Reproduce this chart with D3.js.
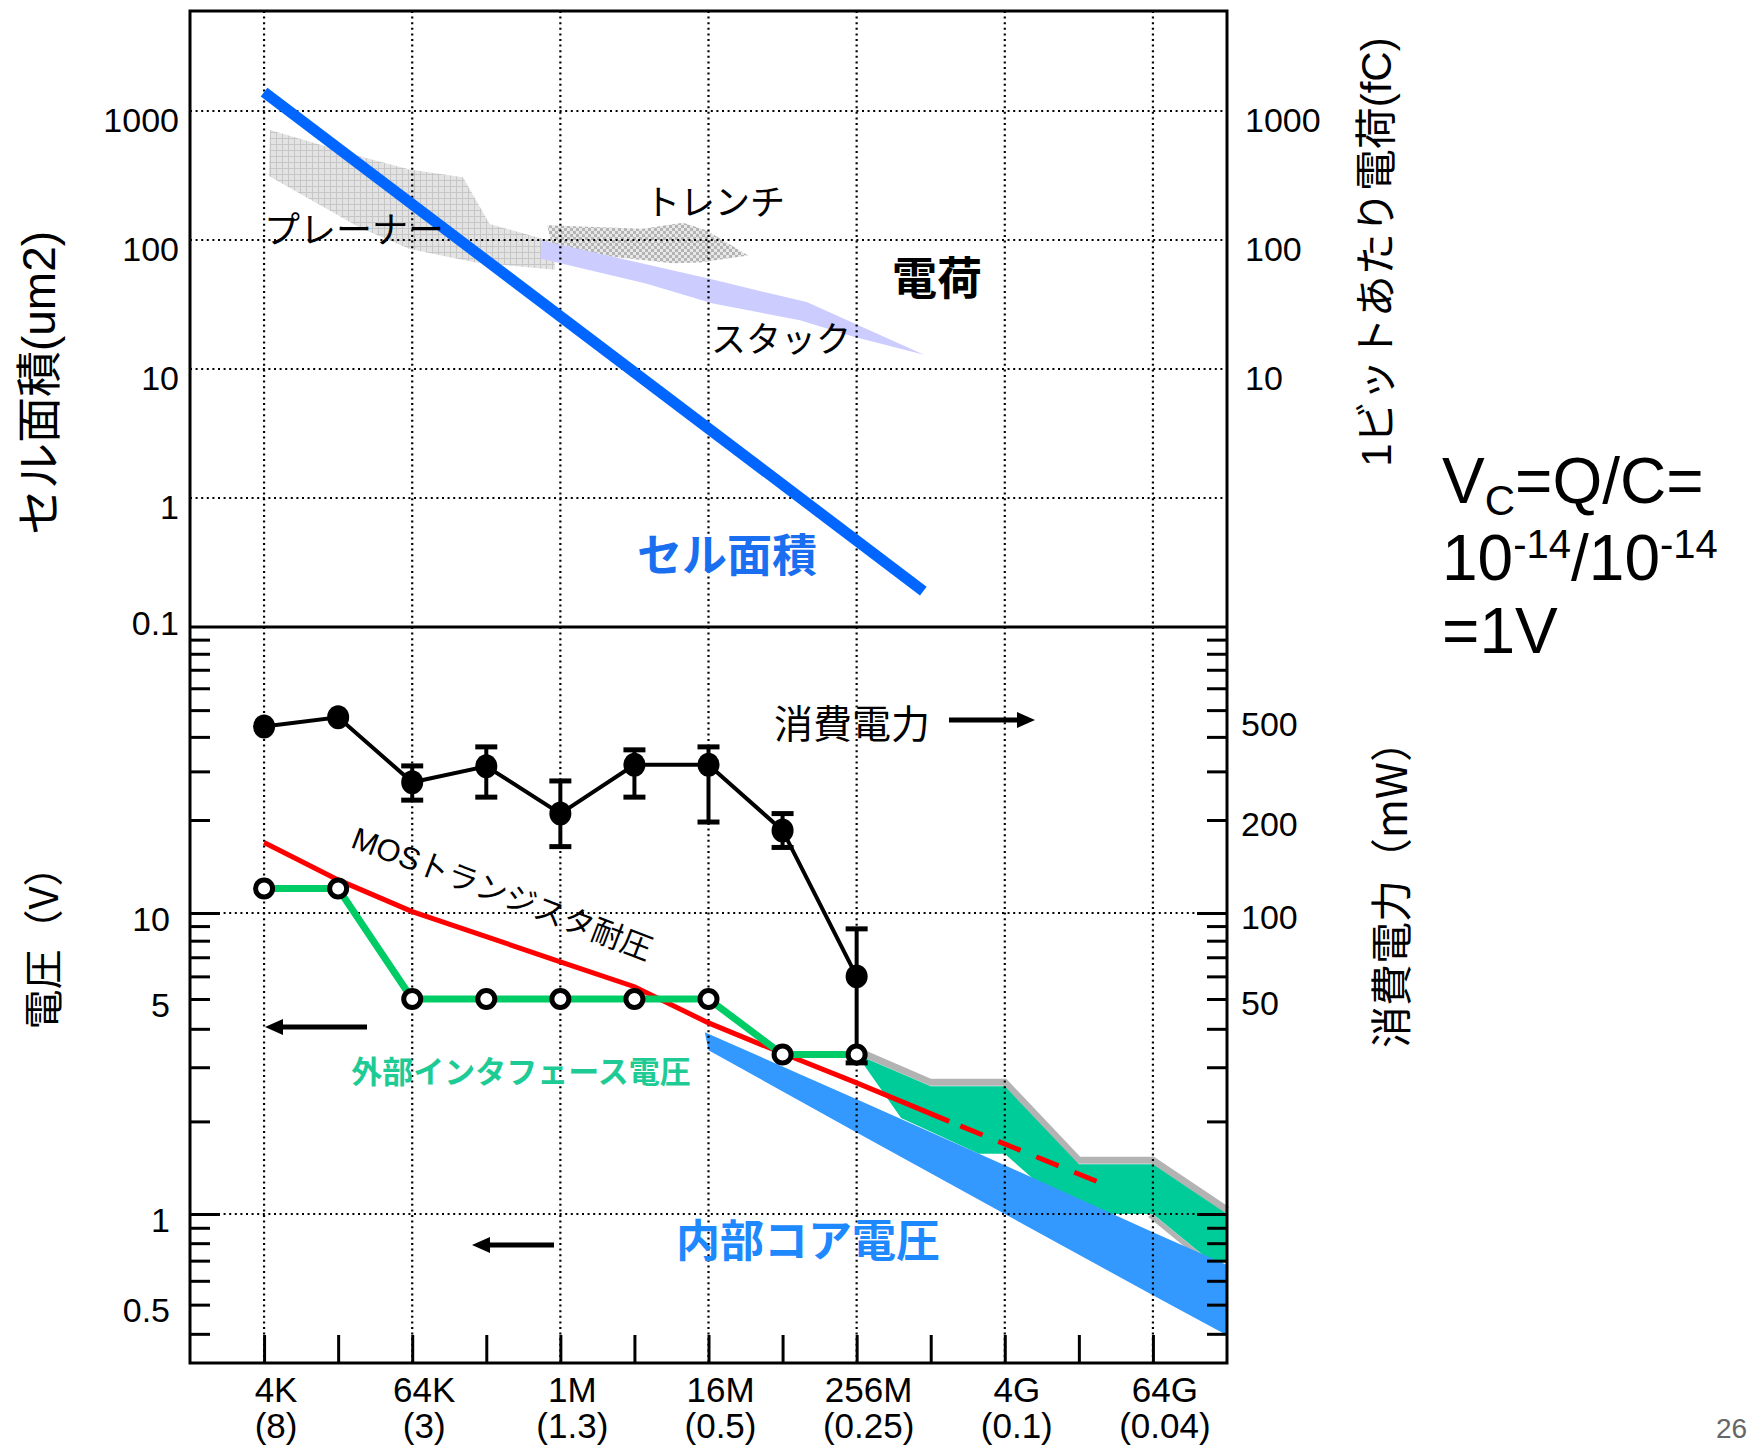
<!DOCTYPE html>
<html>
<head>
<meta charset="utf-8">
<script src="https://cdn.jsdelivr.net/npm/d3@7"></script>
<style>
  body { margin: 0; background: #fff; }
</style>
</head>
<body>
<svg id="chart" width="1755" height="1447"></svg>
<script>
const svg = d3.select("#chart"),
  width = +svg.attr("width"),
  height = +svg.attr("height");

const JP = '"Noto Sans CJK JP", sans-serif';
const EN = '"Liberation Sans", Arial, "Noto Sans CJK JP", sans-serif';

// x is log2 of the DRAM capacity in bits (12 = 4K ... 36 = 64G)
const genBits = [12, 16, 20, 24, 28, 32, 36];
const genLabels = ["4K", "64K", "1M", "16M", "256M", "4G", "64G"];
const ruleLabels = ["(8)", "(3)", "(1.3)", "(0.5)", "(0.25)", "(0.1)", "(0.04)"];
const tickBits = [12, 14, 16, 18, 20, 22, 24, 26, 28, 30, 32, 34, 36];

const areaTicks = [0.1, 1, 10, 100, 1000];
const chargeTicks = [10, 100, 1000];
const voltTicks = [0.5, 1, 5, 10];
const powerTicks = [50, 100, 200, 500];

// top panel: cell area (um2) and charge per bit (fC)
const cellArea = [[12, 1400], [29.8, 0.19]];
const planar = [[12.16, 714], [14.58, 445], [15.93, 352], [17.37, 307], [18.09, 133], [19.54, 102],
  [19.85, 99], [19.85, 58.7], [17.68, 67.3], [15.93, 85.1], [14.58, 125], [12.13, 313]];
const trench = [[19.64, 130], [22.22, 122], [23.31, 136], [23.94, 119], [25.07, 76],
  [23.77, 67], [23.03, 66], [19.82, 83]];
const stack = [[19.5, 99], [24.03, 50], [26.65, 33], [29.82, 12.9],
  [27.92, 17.8], [26.47, 23.9], [24.12, 32.2], [22.31, 46], [19.46, 72]];

// bottom panel: power (mW) with error bars, voltages (V)
const powerBits = [12, 14, 16, 18, 20, 22, 24, 26, 28];
const powerValues = [436, 471, 274, 313, 211, 317, 317, 185, 60];
const powerLow = [null, null, 236, 242, 164, 242, 197, 163, 31];
const powerHigh = [null, null, 314, 368, 277, 359, 368, 211, 88];

const ifaceBits = [12, 14, 16, 18, 20, 22, 24, 26, 28];
const ifaceVolt = [12, 12, 5, 5, 5, 5, 5, 3.3, 3.3];

const mosSolid = [[12, 16.9], [14, 12.8], [16, 10.1], [20, 6.75], [22, 5.52], [24, 4.18], [26, 3.33], [28, 2.67], [30.5, 2.0]];
const mosDashed = [[30.5, 2.0], [34.6, 1.26]];

const ifaceBand = [[28, 3.3], [30, 2.6], [32, 2.6], [34, 1.45], [36, 1.45], [38, 1.0],
  [38, 0.69], [37.6, 0.69], [36, 1.0], [34.6, 1.0], [32.9, 1.26], [32, 1.57], [31.3, 1.57], [29.2, 2.05]];
const ifaceBandTop = [[28, 3.3], [30, 2.6], [32, 2.6], [34, 1.45], [36, 1.45], [38, 1.0]];
const coreBand = [[23.9, 3.9], [28, 2.36], [32, 1.44], [36, 0.869], [38, 0.677],
  [38, 0.396], [36, 0.537], [32, 1.0], [28, 1.84], [24, 3.41]];

const pLeft = 190, pRight = 1227, pTop = 11, pMid = 627, pBottom = 1363;

const x = d3.scaleLinear().domain([10, 38]).range([pLeft, pRight]);
const yArea = d3.scaleLog().domain([0.1, 5960]).range([pMid, pTop]);
const yVolt = d3.scaleLog().domain([0.32, 1, 5, 10, 20, 100]).range([pBottom, 1214, 999, 913, 820, pMid]);
const yPower = d3.scaleLog().domain([3.2, 10, 50, 100, 200, 1000]).range([pBottom, 1214, 999, 913, 820, pMid]);

const lineOf = (ys, closed) => d3.line()
  .curve(closed ? d3.curveLinearClosed : d3.curveLinear)
  .x(d => x(d[0])).y(d => ys(d[1]));

svg.append("rect").attr("width", width).attr("height", height).attr("fill", "#fff");

// patterns
const defs = svg.append("defs");
const grid = defs.append("pattern").attr("id", "planarGrid")
  .attr("width", 6).attr("height", 6).attr("patternUnits", "userSpaceOnUse");
grid.append("rect").attr("width", 6).attr("height", 6).attr("fill", "#e3e3e3");
grid.append("path").attr("d", "M0,0.5H6M0.5,0V6").attr("stroke", "#c6c6c6").attr("stroke-width", 1);
const check = defs.append("pattern").attr("id", "trenchCheck")
  .attr("width", 6).attr("height", 6).attr("patternUnits", "userSpaceOnUse");
check.append("rect").attr("width", 6).attr("height", 6).attr("fill", "#e8e8e8");
check.append("rect").attr("width", 3).attr("height", 3).attr("fill", "#b4b4b4");
check.append("rect").attr("x", 3).attr("y", 3).attr("width", 3).attr("height", 3).attr("fill", "#b4b4b4");

// top shapes
svg.append("path").attr("d", lineOf(yArea, true)(planar)).attr("fill", "url(#planarGrid)");
svg.append("path").attr("d", lineOf(yArea, true)(trench)).attr("fill", "url(#trenchCheck)");
svg.append("path").attr("d", lineOf(yArea, true)(stack)).attr("fill", "#ccccff");

// bottom bands
svg.append("path").attr("d", lineOf(yVolt, false)(ifaceBandTop))
  .attr("transform", "translate(0,-4)")
  .attr("fill", "none").attr("stroke", "#b3b3b3").attr("stroke-width", 7);
svg.append("path").attr("d", lineOf(yVolt, false)([[36, 1.0], [37.6, 0.69]]))
  .attr("transform", "translate(-3,1)")
  .attr("fill", "none").attr("stroke", "#b3b3b3").attr("stroke-width", 5);
svg.append("path").attr("d", lineOf(yVolt, true)(ifaceBand)).attr("fill", "#00cc99");
svg.append("path").attr("d", lineOf(yVolt, true)(coreBand)).attr("fill", "#3399ff");

// dotted grid
const dotted = g => g.attr("stroke", "#000").attr("stroke-width", 2.2)
  .attr("stroke-dasharray", "2,3.6").attr("fill", "none");
const gridG = svg.append("g").call(dotted);
gridG.selectAll(".ht").data(areaTicks.filter(d => d > 0.1)).join("line")
  .attr("x1", pLeft).attr("x2", pRight).attr("y1", d => yArea(d)).attr("y2", d => yArea(d));
gridG.selectAll(".hb").data([1, 10]).join("line")
  .attr("x1", pLeft).attr("x2", pRight).attr("y1", d => yVolt(d)).attr("y2", d => yVolt(d));
gridG.selectAll(".v").data(genBits).join("line")
  .attr("x1", d => x(d)).attr("x2", d => x(d)).attr("y1", pTop).attr("y2", pBottom);

// cell area line
svg.append("path").attr("d", lineOf(yArea, false)(cellArea))
  .attr("fill", "none").attr("stroke", "#0066ff").attr("stroke-width", 11);

// MOS breakdown voltage
svg.append("path").attr("d", lineOf(yVolt, false)(mosSolid))
  .attr("fill", "none").attr("stroke", "#ff0000").attr("stroke-width", 5);
svg.append("path").attr("d", lineOf(yVolt, false)(mosDashed))
  .attr("fill", "none").attr("stroke", "#ff0000").attr("stroke-width", 5)
  .attr("stroke-dasharray", "24,17").attr("stroke-dashoffset", -12);

// interface voltage
const iface = ifaceBits.map((b, i) => [b, ifaceVolt[i]]);
svg.append("path").attr("d", lineOf(yVolt, false)(iface))
  .attr("fill", "none").attr("stroke", "#00cc66").attr("stroke-width", 7);

// power line, error bars
const power = powerBits.map((b, i) => [b, powerValues[i]]);
svg.append("path").attr("d", lineOf(yPower, false)(power))
  .attr("fill", "none").attr("stroke", "#000").attr("stroke-width", 4);
const errG = svg.append("g").attr("stroke", "#000");
powerBits.forEach((b, i) => {
  if (powerLow[i] == null) return;
  const cx = x(b), y1 = yPower(powerLow[i]), y2 = yPower(powerHigh[i]);
  errG.append("line").attr("x1", cx).attr("x2", cx).attr("y1", y1).attr("y2", y2).attr("stroke-width", 4);
  [y1, y2].forEach(yy => errG.append("line").attr("x1", cx - 11).attr("x2", cx + 11)
    .attr("y1", yy).attr("y2", yy).attr("stroke-width", 5));
});

svg.selectAll(".ic").data(iface).join("circle")
  .attr("cx", d => x(d[0])).attr("cy", d => yVolt(d[1])).attr("r", 8.5)
  .attr("fill", "#fff").attr("stroke", "#000").attr("stroke-width", 5);
svg.selectAll(".pc").data(power).join("ellipse")
  .attr("cx", d => x(d[0])).attr("cy", d => yPower(d[1])).attr("rx", 11).attr("ry", 12)
  .attr("fill", "#000");

// frame
svg.append("rect").attr("x", pLeft).attr("y", pTop).attr("width", pRight - pLeft).attr("height", pBottom - pTop)
  .attr("fill", "none").attr("stroke", "#000").attr("stroke-width", 3);
svg.append("line").attr("x1", pLeft).attr("x2", pRight).attr("y1", pMid).attr("y2", pMid)
  .attr("stroke", "#000").attr("stroke-width", 3);

// ticks
const tickStyle = g => {
  g.select(".domain").remove();
  g.selectAll("line").attr("stroke", "#000").attr("stroke-width", 3);
};
const voltAll = yVolt.ticks().filter(v => v > 0.32 && v < 100);
svg.append("g").attr("transform", `translate(${pLeft},0)`)
  .call(d3.axisRight(yVolt).tickValues(voltAll.filter(v => v !== 1 && v !== 10)).tickSize(20).tickFormat(""))
  .call(tickStyle);
svg.append("g").attr("transform", `translate(${pLeft},0)`)
  .call(d3.axisRight(yVolt).tickValues([1, 10]).tickSize(30).tickFormat(""))
  .call(tickStyle);
const powerAll = yPower.ticks().filter(v => v > 3.2 && v < 1000);
svg.append("g").attr("transform", `translate(${pRight},0)`)
  .call(d3.axisLeft(yPower).tickValues(powerAll.filter(v => v !== 10 && v !== 100)).tickSize(20).tickFormat(""))
  .call(tickStyle);
svg.append("g").attr("transform", `translate(${pRight},0)`)
  .call(d3.axisLeft(yPower).tickValues([10, 100]).tickSize(30).tickFormat(""))
  .call(tickStyle);
svg.append("g").attr("transform", `translate(0,${pBottom})`)
  .call(d3.axisTop(x).tickValues(tickBits).tickSize(28).tickFormat(""))
  .call(tickStyle);

// tick labels
const labelStyle = (g, dy) => {
  g.select(".domain").remove();
  g.selectAll("text").attr("font-family", EN).attr("font-size", 34).attr("fill", "#000").attr("dy", dy);
};
const fmt = d3.format("~g");
svg.append("g").attr("transform", `translate(${pLeft},0)`)
  .call(d3.axisLeft(yArea).tickValues(areaTicks).tickFormat(fmt).tickSize(0).tickPadding(11))
  .call(g => labelStyle(g, d => d === 0.1 ? "0.22em" : "0.6em"));
svg.append("g").attr("transform", `translate(${pRight},0)`)
  .call(d3.axisRight(yArea).tickValues(chargeTicks).tickFormat(fmt).tickSize(0).tickPadding(18))
  .call(g => labelStyle(g, "0.6em"));
svg.append("g").attr("transform", `translate(${pLeft},0)`)
  .call(d3.axisLeft(yVolt).tickValues(voltTicks).tickFormat(fmt).tickSize(0).tickPadding(20))
  .call(g => labelStyle(g, "0.5em"));
svg.append("g").attr("transform", `translate(${pRight},0)`)
  .call(d3.axisRight(yPower).tickValues(powerTicks).tickFormat(fmt).tickSize(0).tickPadding(14))
  .call(g => labelStyle(g, d => d === 500 ? "0.75em" : "0.45em"));

const xl = svg.append("g").attr("font-family", EN).attr("font-size", 35).attr("text-anchor", "middle");
xl.selectAll(".g1").data(genBits).join("text")
  .attr("x", d => x(d) + 12).attr("y", 1402).text((d, i) => genLabels[i]);
xl.selectAll(".g2").data(genBits).join("text")
  .attr("x", d => x(d) + 12).attr("y", 1438).text((d, i) => ruleLabels[i]);

// axis titles
const title = (tx, ty, txt, size, family) => svg.append("text")
  .attr("transform", `translate(${tx},${ty}) rotate(-90)`)
  .attr("text-anchor", "middle").attr("dominant-baseline", "central")
  .attr("font-family", family || EN).attr("font-size", size).text(txt);
title(39, 383, "セル面積(um2)", 46);
title(1376, 252, "1ビットあたり電荷(fC)", 42);
title(41, 938, "電圧（V）", 40, JP);
title(1388, 884, "消費電力（mW）", 42, JP);

// annotations
const note = (tx, ty, txt, size, color, weight) => svg.append("text")
  .attr("x", tx).attr("y", ty).attr("text-anchor", "middle").attr("dominant-baseline", "central")
  .attr("font-family", JP).attr("font-size", size).attr("fill", color || "#000")
  .attr("font-weight", weight || "normal").text(txt);
note(354, 227, "プレーナー", 36);
note(715, 199, "トレンチ", 35);
note(781, 336, "スタック", 35);
note(937, 275, "電荷", 45, "#000", "bold");
note(727, 552, "セル面積", 45, "#1a6ff0", "bold");
note(852, 721, "消費電力", 39);
note(521, 1069, "外部インタフェース電圧", 31, "#1ecb95", "bold");
note(808, 1238, "内部コア電圧", 44, "#1e88ff", "bold");

svg.append("text")
  .attr("transform", "translate(502,894) rotate(21)")
  .attr("text-anchor", "middle").attr("dominant-baseline", "central")
  .attr("font-family", EN).attr("font-size", 31).text("MOSトランジスタ耐圧");

// arrows
const arrow = (x1, x2, y) => {
  const dir = Math.sign(x2 - x1), head = 18;
  svg.append("line").attr("x1", x1).attr("x2", x2 - dir * head).attr("y1", y).attr("y2", y)
    .attr("stroke", "#000").attr("stroke-width", 5);
  svg.append("path")
    .attr("d", `M${x2},${y}L${x2 - dir * head},${y - 8}L${x2 - dir * head},${y + 8}Z`)
    .attr("fill", "#000");
};
arrow(949, 1035, 720);
arrow(367, 265, 1027);
arrow(554, 472, 1245);

// Vc note
const vc = svg.append("g").attr("font-family", EN).attr("font-size", 64).attr("fill", "#000");
const t1 = vc.append("text").attr("x", 1442).attr("y", 503);
t1.append("tspan").text("V");
t1.append("tspan").attr("font-size", 42).attr("dy", 12).text("C");
t1.append("tspan").attr("dy", -12).text("=Q/C=");
const t2 = vc.append("text").attr("x", 1442).attr("y", 580);
t2.append("tspan").text("10");
t2.append("tspan").attr("font-size", 40).attr("dy", -22).text("-14");
t2.append("tspan").attr("dy", 22).text("/10");
t2.append("tspan").attr("font-size", 40).attr("dy", -22).text("-14");
vc.append("text").attr("x", 1442).attr("y", 653).text("=1V");

svg.append("text").attr("x", 1716).attr("y", 1438)
  .attr("font-family", EN).attr("font-size", 28).attr("fill", "#666").text("26");
</script>
</body>
</html>
